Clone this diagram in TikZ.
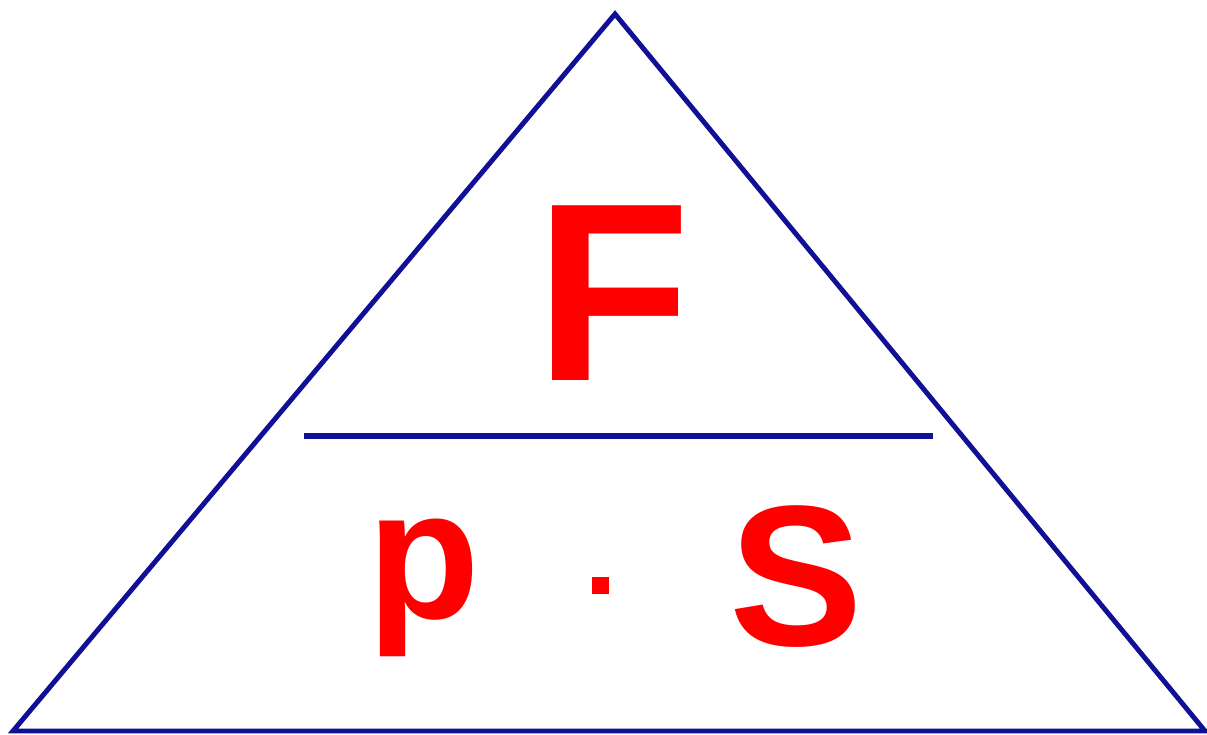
\documentclass[tikz,border=0pt]{standalone}
\usepackage{fontspec}
\setmainfont{Liberation Sans}
\usepackage{tikz}
\usetikzlibrary{positioning}
\definecolor{lineblue}{RGB}{16,16,150}
\definecolor{letterred}{RGB}{255,0,0}

\begin{document}
\begin{tikzpicture}[x=0.02cm, y=-0.02cm,
        bluestroke/.style={draw=lineblue, line width=2.8pt, line join=miter},
        letter/.style={text=letterred, inner sep=0pt, anchor=base, font=\bfseries}]
        \useasboundingbox (0,0) rectangle (1207,734);
        \coordinate (apex) at (615,14);
        \coordinate (left) at (13,731);
        \coordinate (right) at (1205,731);
        \coordinate (barl) at (304,436);
        \coordinate (barr) at (933,436);
        \draw[bluestroke] (left) -- (apex) -- (right) -- cycle;
        \draw[bluestroke, line width=3.4pt] (barl) -- (barr);
        \node[letter, font=\bfseries\fontsize{144.6pt}{150pt}\selectfont] (force) at (613.5,380) {F};
        \node[letter, font=\bfseries\fontsize{105pt}{110pt}\selectfont] (pres) at (424,618) {p};
        \node[letter, font=\bfseries\fontsize{114pt}{120pt}\selectfont] (area) at (796,645) {S};
        \fill[letterred] (592,577) rectangle (609,594);
      \end{tikzpicture}
\end{document}
